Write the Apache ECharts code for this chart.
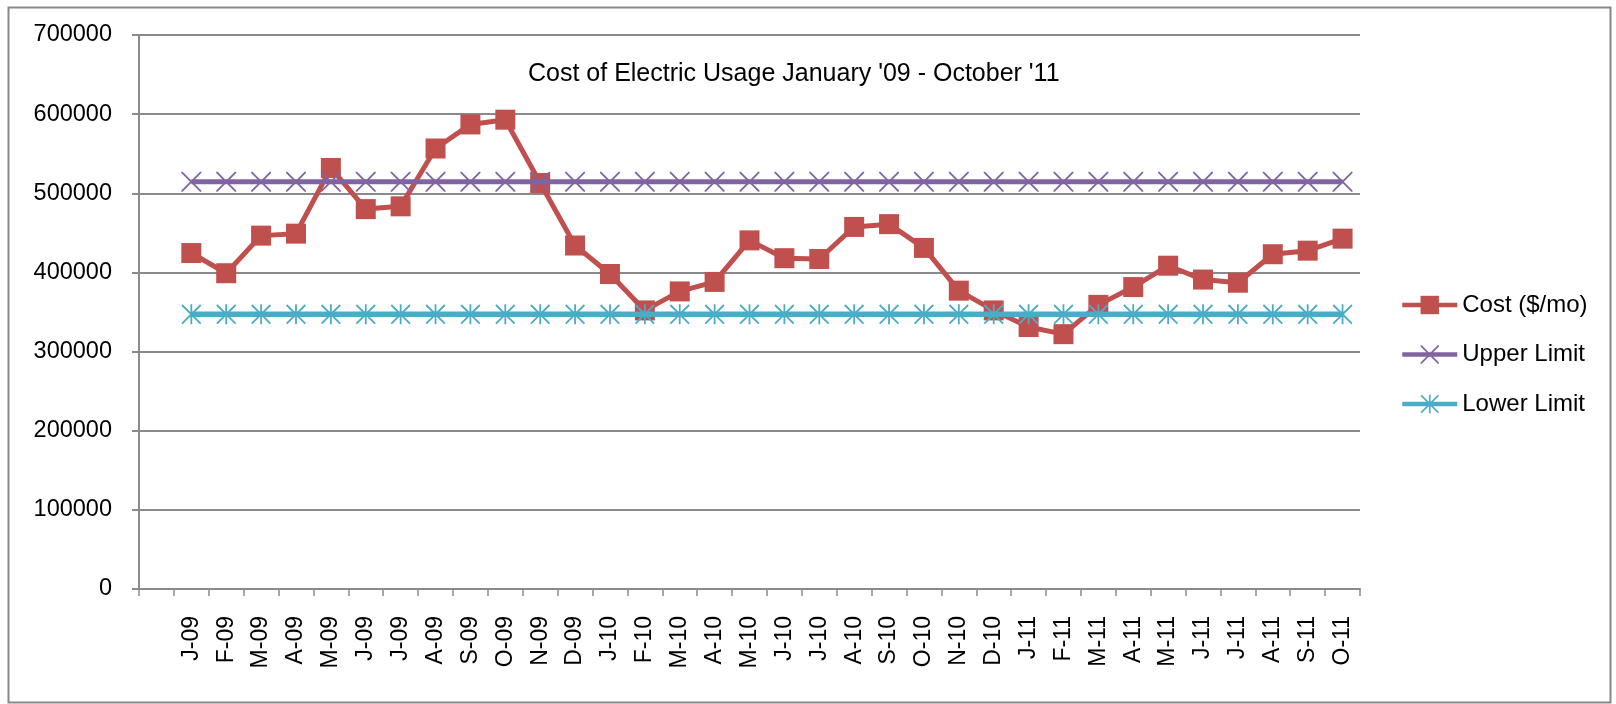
<!DOCTYPE html>
<html>
<head>
<meta charset="utf-8">
<script src="https://cdn.jsdelivr.net/npm/echarts@6/dist/echarts.min.js"></script>
<style>
html,body{margin:0;padding:0;background:#fff;}
#chart{width:1616px;height:704px;}
</style>
</head>
<body>
<div id="chart"></div>
<script>
const categories = ['', 'J-09','F-09','M-09','A-09','M-09','J-09','J-09','A-09','S-09','O-09','N-09','D-09',
  'J-10','F-10','M-10','A-10','M-10','J-10','J-10','A-10','S-10','O-10','N-10','D-10',
  'J-11','F-11','M-11','A-11','M-11','J-11','J-11','A-11','S-11','O-11'];
const cost = [null, 424500, 399000, 446500, 449000, 532000, 480000, 483500, 556600, 587000, 593000, 513000, 434000,
  398000, 352000, 376000, 388000, 440500, 418000, 417000, 457500, 461000, 431000, 377000, 352000,
  331000, 322000, 359000, 381500, 408500, 391000, 387000, 423000, 427500, 442700];
const upperLimit = [null, 514500, 514500, 514500, 514500, 514500, 514500, 514500, 514500, 514500, 514500, 514500, 514500,
  514500, 514500, 514500, 514500, 514500, 514500, 514500, 514500, 514500, 514500, 514500, 514500,
  514500, 514500, 514500, 514500, 514500, 514500, 514500, 514500, 514500, 514500];
const lowerLimit = [null, 347000, 347000, 347000, 347000, 347000, 347000, 347000, 347000, 347000, 347000, 347000, 347000,
  347000, 347000, 347000, 347000, 347000, 347000, 347000, 347000, 347000, 347000, 347000, 347000,
  347000, 347000, 347000, 347000, 347000, 347000, 347000, 347000, 347000, 347000];
const seriesNames = ['Cost ($/mo)', 'Upper Limit', 'Lower Limit'];
const titleText = "Cost of Electric Usage January '09 - October '11";

const FONT = 'Liberation Sans';
const d = 1.3, h = 0.9;
const xPath = 'path://M0,0 L' + d + ',0 L10,' + (10 - d) + ' L' + (20 - d) + ',0 L20,0 L20,' + d +
  ' L' + (10 + d) + ',10 L20,' + (20 - d) + ' L20,20 L' + (20 - d) + ',20 L10,' + (10 + d) +
  ' L' + d + ',20 L0,20 L0,' + (20 - d) + ' L' + (10 - d) + ',10 L0,' + d + ' Z';
const starPath = 'path://M' + (10 - h) + ',0 L' + (10 + h) + ',0 L' + (10 + h) + ',20 L' + (10 - h) + ',20 Z ' +
  'M0,' + d + ' L' + d + ',0 L20,' + (20 - d) + ' L' + (20 - d) + ',20 Z ' +
  'M0,' + (20 - d) + ' L' + (20 - d) + ',0 L20,' + d + ' L' + d + ',20 Z';

const chart = echarts.init(document.getElementById('chart'), null, {renderer: 'canvas'});
const gridColor = '#8a8a8a';
chart.setOption({
  animation: false,
  backgroundColor: '#ffffff',
  title: {
    text: titleText,
    left: 523, top: 57,
    textStyle: {fontFamily: FONT, fontSize: 25, fontWeight: 'normal', color: '#000'}
  },
  graphic: [{
    type: 'rect', left: 6, top: 5, silent: true,
    shape: {width: 1602, height: 695},
    style: {fill: 'none', stroke: '#888', lineWidth: 2}
  }],
  legend: {
    orient: 'vertical', left: 1400, top: 293,
    itemWidth: 55, itemHeight: 23, itemGap: 25.5,
    padding: 0,
    lineStyle: {width: 4.5},
    textStyle: {fontFamily: FONT, fontSize: 24, color: '#000'},
    data: seriesNames
  },
  grid: {left: 139, top: 35, width: 1221, height: 554},
  xAxis: {
    type: 'category', data: categories, boundaryGap: true,
    axisLine: {lineStyle: {color: gridColor, width: 2}},
    axisTick: {show: true, interval: 0, length: 7, lineStyle: {color: gridColor, width: 1.5}},
    axisLabel: {interval: 0, rotate: 90, margin: 27, fontFamily: FONT, fontSize: 23, color: '#000'},
    splitLine: {show: false}
  },
  yAxis: {
    type: 'value', min: 0, max: 700000, interval: 100000,
    axisLine: {show: true, lineStyle: {color: gridColor, width: 2}},
    axisTick: {show: true, length: 7, lineStyle: {color: gridColor, width: 2}},
    axisLabel: {margin: 27, fontFamily: FONT, fontSize: 23.5, color: '#000', formatter: v => String(v)},
    splitLine: {show: true, lineStyle: {color: gridColor, width: 2}}
  },
  series: [
    {
      name: seriesNames[0], type: 'line', data: cost,
      symbol: 'rect', symbolSize: 20, showAllSymbol: true,
      itemStyle: {color: '#C0504D'},
      lineStyle: {color: '#C0504D', width: 5},
      z: 2
    },
    {
      name: seriesNames[1], type: 'line', data: upperLimit,
      symbol: xPath, symbolSize: 20, showAllSymbol: true,
      itemStyle: {color: '#8064A2'},
      lineStyle: {color: '#8064A2', width: 5},
      z: 3
    },
    {
      name: seriesNames[2], type: 'line', data: lowerLimit,
      symbol: starPath, symbolSize: 20, showAllSymbol: true,
      itemStyle: {color: '#4BACC6'},
      lineStyle: {color: '#4BACC6', width: 5.5},
      z: 4
    }
  ]
});
</script>
</body>
</html>
